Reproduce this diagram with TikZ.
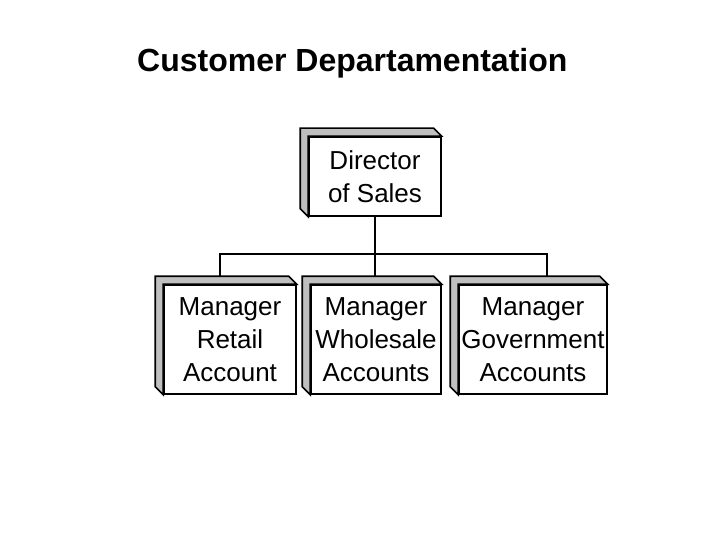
\documentclass[tikz,border=0pt]{standalone}
\usepackage{fontspec}
\setmainfont{Liberation Sans}
\pgfdeclarelayer{canvas}
\pgfdeclarelayer{background}
\pgfsetlayers{canvas,background,main}
\tikzset{
  front/.style={draw=black, line width=1.6pt, fill=white, inner sep=0pt, align=center,
    font=\fontsize{26}{33}\selectfont},
  conn/.style={draw=black, line width=1.6pt},
  backface/.style={fill=black!25, draw=black, line width=1.6pt, line join=miter}
}
\newcommand{\backof}[1]{%
  \begin{pgfonlayer}{background}
  \path[backface] (#1.south west) -- ([shift={(-8pt,8pt)}]#1.south west)
    -- ([shift={(-8pt,8pt)}]#1.north west) -- ([shift={(-8pt,8pt)}]#1.north east)
    -- (#1.north east) -- (#1.north west) -- cycle;
  \end{pgfonlayer}}
\begin{document}
\begin{tikzpicture}[x=1pt,y=-1pt]
\begin{pgfonlayer}{canvas}
\fill[white] (0,0) rectangle (720,540);
\end{pgfonlayer}
\useasboundingbox (0,0) rectangle (720,540);
\node[anchor=base west, inner sep=0pt, font=\fontsize{32}{38}\selectfont\bfseries] (title) at (137,72) {Customer Departamentation};

\node[front, minimum width=132pt, minimum height=79pt] (dir) at (375,176.5) {Director\\of Sales};
\node[front, minimum width=132pt, minimum height=109pt] (ret) at (230,339.5) {Manager\\Retail\\Account};
\node[front, minimum width=130pt, minimum height=109pt] (who) at (376,339.5) {Manager\\Wholesale\\Accounts};
\node[front, minimum width=148pt, minimum height=109pt] (gov) at (533,339.5) {Manager\\Government\\Accounts};
\backof{dir}\backof{ret}\backof{who}\backof{gov}

\coordinate (rtop) at (220,277);
\coordinate (wtop) at (375,277);
\coordinate (gtop) at (547,277);
\coordinate (bl) at (220,254);
\coordinate (br) at (547,254);
\draw[conn] (dir.south) -- (wtop);
\draw[conn] (rtop) -- (bl) -- (br) -- (gtop);
\end{tikzpicture}
\end{document}
